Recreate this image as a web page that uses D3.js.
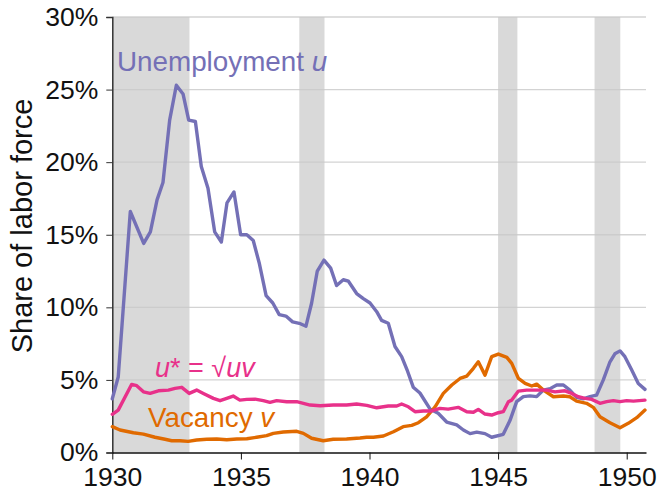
<!DOCTYPE html>
<html><head><meta charset="utf-8">
<script src="https://cdn.jsdelivr.net/npm/d3@7"></script>
<style>
html,body{margin:0;padding:0;background:#fff;}
svg text{font-family:"Liberation Sans",Arial,Helvetica,sans-serif;}
</style></head>
<body><svg id="chart" width="659" height="495"></svg>
<script>
const xTicks = [1930, 1935, 1940, 1945, 1950];
const yTicks = [0, 5, 10, 15, 20, 25, 30];
const recessionStart = [1929.6, 1937.27, 1945.0, 1948.75];
const recessionEnd   = [1933.0, 1938.25, 1945.75, 1949.75];

const uYears = [1930.00,1930.23,1930.70,1931.22,1931.48,1931.74,1931.97,1932.23,1932.49,1932.75,1932.97,1933.23,1933.46,1933.72,1933.98,1934.24,1934.46,1934.73,1934.99,1935.23,1935.48,1935.72,1935.98,1936.24,1936.49,1936.75,1937.01,1937.27,1937.53,1937.75,1937.97,1938.23,1938.49,1938.72,1938.98,1939.18,1939.50,1939.76,1940.02,1940.28,1940.47,1940.73,1940.99,1941.25,1941.48,1941.70,1941.96,1942.35,1942.67,1943.00,1943.39,1943.65,1943.91,1944.17,1944.49,1944.75,1945.20,1945.46,1945.72,1945.98,1946.24,1946.50,1946.76,1947.02,1947.28,1947.54,1947.79,1948.05,1948.31,1948.57,1948.83,1949.09,1949.35,1949.54,1949.74,1949.93,1950.19,1950.45,1950.71];
const uValues = [3.7,5.2,16.6,14.4,15.2,17.4,18.6,22.9,25.3,24.7,22.9,22.8,19.7,18.2,15.2,14.5,17.2,17.95,15.0,15.0,14.6,13.0,10.8,10.3,9.5,9.4,9.0,8.9,8.7,10.3,12.5,13.25,12.7,11.5,11.9,11.8,10.95,10.6,10.3,9.7,9.1,8.9,7.3,6.6,5.6,4.5,4.1,3.0,2.7,2.1,1.9,1.55,1.3,1.4,1.3,1.05,1.25,2.2,3.5,3.85,3.9,3.85,4.3,4.4,4.65,4.65,4.3,3.8,3.7,3.85,3.95,5.0,6.25,6.8,7.0,6.6,5.7,4.75,4.35];

const vYears = [1930.00,1930.30,1930.82,1931.21,1931.66,1932.05,1932.31,1932.63,1932.95,1933.28,1933.67,1934.06,1934.45,1934.84,1935.23,1935.61,1936.00,1936.26,1936.65,1937.17,1937.43,1937.75,1938.20,1938.59,1939.11,1939.63,1939.89,1940.15,1940.54,1940.93,1941.31,1941.64,1941.90,1942.22,1942.55,1942.87,1943.20,1943.52,1943.78,1944.04,1944.23,1944.49,1944.75,1945.01,1945.34,1945.53,1945.79,1946.05,1946.31,1946.50,1946.76,1947.15,1947.54,1947.79,1948.05,1948.44,1948.70,1948.96,1949.35,1949.74,1950.06,1950.39,1950.71];
const vValues = [1.78,1.55,1.36,1.27,1.05,0.91,0.81,0.81,0.77,0.86,0.91,0.93,0.88,0.93,0.95,1.05,1.16,1.32,1.41,1.46,1.32,0.98,0.81,0.91,0.93,1.0,1.05,1.05,1.14,1.43,1.78,1.87,2.05,2.46,3.15,4.07,4.65,5.1,5.26,5.8,6.25,5.33,6.6,6.78,6.55,6.14,5.1,4.76,4.58,4.71,4.3,3.84,3.89,3.84,3.54,3.39,3.11,2.46,2.05,1.71,2.01,2.4,2.92];

const sYears = [1930.00,1930.23,1930.75,1930.95,1931.21,1931.47,1931.79,1932.18,1932.44,1932.70,1932.99,1933.28,1933.54,1933.93,1934.19,1934.45,1934.70,1934.96,1935.23,1935.55,1935.87,1936.13,1936.39,1936.78,1937.17,1937.43,1937.69,1938.08,1938.59,1939.11,1939.50,1939.89,1940.28,1940.73,1941.06,1941.25,1941.51,1941.77,1942.09,1942.42,1942.74,1943.06,1943.45,1943.78,1944.04,1944.23,1944.49,1944.75,1945.01,1945.20,1945.40,1945.53,1945.79,1946.11,1946.50,1946.89,1947.21,1947.60,1947.86,1948.12,1948.38,1948.64,1948.96,1949.22,1949.48,1949.74,1950.00,1950.26,1950.71];
const sValues = [2.63,2.92,4.69,4.6,4.18,4.07,4.25,4.3,4.42,4.49,4.07,4.3,4.07,3.73,3.57,3.73,3.89,3.61,3.66,3.68,3.57,3.45,3.57,3.5,3.5,3.39,3.27,3.22,3.27,3.27,3.34,3.25,3.08,3.2,3.2,3.34,3.15,2.81,2.86,2.86,3.04,2.99,3.11,2.81,2.77,2.97,2.65,2.58,2.74,2.81,3.5,3.61,4.23,4.3,4.3,4.3,4.18,4.25,4.07,3.84,3.73,3.66,3.39,3.5,3.57,3.5,3.57,3.54,3.61];

const colU = "#7470b6", colV = "#e06a00", colS = "#e8318a";

const svg = d3.select("#chart");
const x = d3.scaleLinear().domain([1930, 1950.75]).range([112.3, 646]);
const y = d3.scaleLinear().domain([0, 30]).range([452.5, 17]);

// recessions
svg.append("g").selectAll("rect").data(recessionStart).join("rect")
  .attr("x", (d) => x(Math.max(d, 1930)))
  .attr("width", (d, i) => x(recessionEnd[i]) - x(Math.max(d, 1930)))
  .attr("y", y(30)).attr("height", y(0) - y(30))
  .attr("fill", "#d9d9d9");

// gridlines
svg.append("g").selectAll("line").data(yTicks.filter(d => d > 0)).join("line")
  .attr("x1", x(1930)).attr("x2", x(1950.75))
  .attr("y1", d => y(d)).attr("y2", d => y(d))
  .attr("stroke", "#c8c8c8").attr("stroke-opacity", 0.8).attr("stroke-width", 1.3);

// axes
const yAxis = svg.append("g").attr("transform", `translate(${x(1930)},0)`)
  .call(d3.axisLeft(y).tickValues(yTicks).tickFormat(d => d + "%").tickSize(6).tickPadding(8));
yAxis.select(".domain").attr("stroke", "#333").attr("stroke-width", 1.5);
yAxis.selectAll(".tick line").attr("stroke", "#333");
yAxis.selectAll("text").attr("font-size", 26.5).attr("fill", "#111")
  .style("font-family", "'Liberation Sans', Arial, sans-serif");

const xAxis = svg.append("g").attr("transform", `translate(0,${y(0)})`)
  .call(d3.axisBottom(x).tickValues(xTicks).tickFormat(d3.format("d")).tickSize(7).tickPadding(8).tickSizeOuter(0));
xAxis.select(".domain").attr("stroke", "#111").attr("stroke-width", 1.5);
xAxis.selectAll(".tick line").attr("stroke", "#111");
xAxis.selectAll("text").attr("font-size", 26.5).attr("fill", "#111")
  .style("font-family", "'Liberation Sans', Arial, sans-serif");

// lines
const mk = (ys, vs) => ys.map((t, i) => [t, vs[i]]);
const line = d3.line().x(d => x(d[0])).y(d => y(d[1]));
[[mk(uYears, uValues), colU], [mk(vYears, vValues), colV], [mk(sYears, sValues), colS]].forEach(([data, c]) => {
  svg.append("path").datum(data).attr("d", line)
    .attr("fill", "none").attr("stroke", c).attr("stroke-width", 3.4)
    .attr("stroke-linejoin", "round").attr("stroke-linecap", "round");
});

// y title
svg.append("text").attr("transform", "translate(32,226) rotate(-90)")
  .attr("text-anchor", "middle").attr("font-size", 29).attr("fill", "#111")
  .text("Share of labor force");

// annotations
const t1 = svg.append("text").attr("x", 117).attr("y", 71).attr("font-size", 27.8).attr("fill", colU);
t1.append("tspan").text("Unemployment ");
t1.append("tspan").attr("font-style", "italic").text("u");

const t2 = svg.append("text").attr("x", 155).attr("y", 377).attr("font-size", 27).attr("fill", colS);
t2.append("tspan").attr("font-style", "italic").text("u");
t2.append("tspan").text("* = √");
t2.append("tspan").attr("font-style", "italic").text("uv");

const t3 = svg.append("text").attr("x", 148).attr("y", 427).attr("font-size", 27.8).attr("fill", colV);
t3.append("tspan").text("Vacancy ");
t3.append("tspan").attr("font-style", "italic").text("v");
</script></body></html>
